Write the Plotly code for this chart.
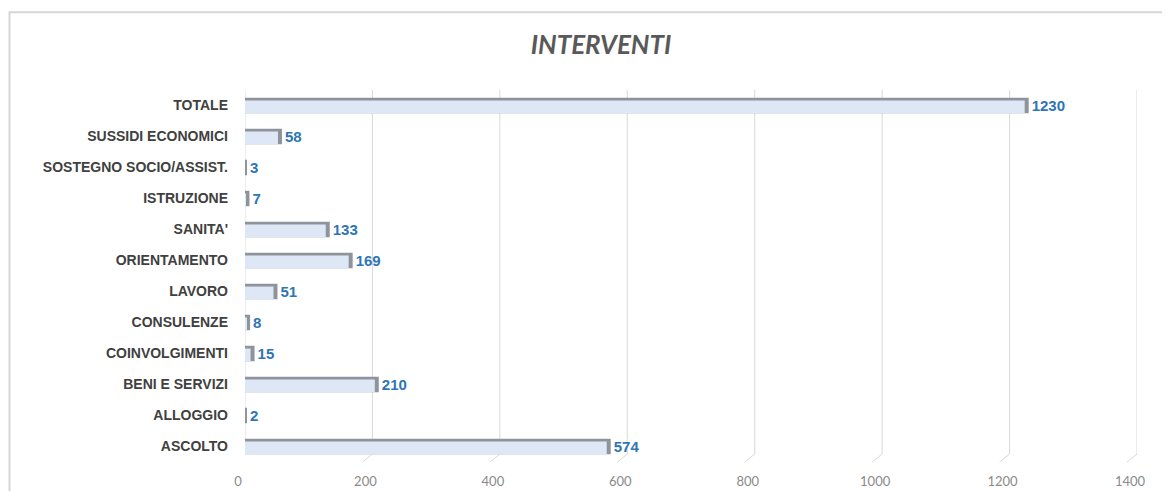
import plotly.graph_objects as go

categories = ["ASCOLTO", "ALLOGGIO", "BENI E SERVIZI", "COINVOLGIMENTI", "CONSULENZE",
              "LAVORO", "ORIENTAMENTO", "SANITA'", "ISTRUZIONE",
              "SOSTEGNO SOCIO/ASSIST.", "SUSSIDI ECONOMICI", "TOTALE"]
values = [574, 2, 210, 15, 8, 51, 169, 133, 7, 3, 58, 1230]
x_ticks = [0, 200, 400, 600, 800, 1000, 1200, 1400]

W, H = 1170, 491
OFF = 8  # page body margin offset
ML = 245 - OFF
MR = W - (1137 - OFF)
MT = 89.5 - OFF
MB = H - (462.5 - OFF)
xmax = 1400
PW = W - ML - MR
PH = H - MT - MB
px_per_unit = PW / xmax
edge = 4 / px_per_unit  # 3D side face width in data units

front = [max(v - edge, 0) for v in values]

fig = go.Figure()
fig.add_trace(go.Bar(
    y=categories, x=values, orientation="h",
    width=0.5, offset=-0.25,
    marker=dict(color="#8f949c", line=dict(width=0)),
    text=[str(v) for v in values], textposition="outside",
    constraintext="none",
    textfont=dict(family="Liberation Sans", size=15, color="#2e75b6", weight="bold"),
    cliponaxis=False, hoverinfo="skip",
))
fig.add_trace(go.Bar(
    y=categories, x=front, orientation="h",
    width=0.41, offset=-0.25,
    marker=dict(color="#dde7f6", line=dict(width=0)),
    hoverinfo="skip",
))

grid_color = "#d9d9d9"
foot = 8 / PH
slant = 10 / px_per_unit
shapes = [dict(type="rect", xref="paper", yref="paper",
               x0=(9.5 - OFF - ML) / PW, x1=1.2,
               y0=-0.3, y1=(H - MB - (11.5 - OFF)) / PH,
               line=dict(color="#d6d6d6", width=2), layer="below")]
for t in x_ticks:
    shapes.append(dict(type="line", xref="x", yref="paper", x0=t, x1=t, y0=foot, y1=1,
                       line=dict(color=grid_color, width=1), layer="below"))
    shapes.append(dict(type="line", xref="x", yref="paper", x0=t, x1=t - slant, y0=foot, y1=0,
                       line=dict(color=grid_color, width=1), layer="below"))

fig.update_layout(
    width=W, height=H,
    margin=dict(l=ML, r=MR, t=MT, b=MB, autoexpand=False),
    barmode="overlay",
    showlegend=False,
    plot_bgcolor="white", paper_bgcolor="white",
    title=dict(
        text="<b><i>INTERVENTI</i></b>",
        font=dict(family="Lato", size=26, color="#595959"),
        x=(601 - OFF) / W, xref="container", xanchor="center",
        y=1 - (45 - OFF) / H, yref="container", yanchor="middle",
    ),
    shapes=shapes,
)
fig.update_xaxes(
    range=[0, xmax], tickvals=x_ticks, showgrid=False,
    zeroline=False, showline=False, automargin=False,
    tickfont=dict(family="Lato", size=13, color="#8a8a8a"),
    ticklabelstandoff=10, ticklabelshift=-7,
)
fig.update_yaxes(
    type="category", categoryorder="array", categoryarray=categories,
    range=[-0.5, len(categories) - 0.5],
    showgrid=False, zeroline=False, showline=False, automargin=False,
    tickfont=dict(family="Liberation Sans", size=14, color="#404040", weight="bold"),
    ticklabelstandoff=16,
)

fig.write_html("out.html")
